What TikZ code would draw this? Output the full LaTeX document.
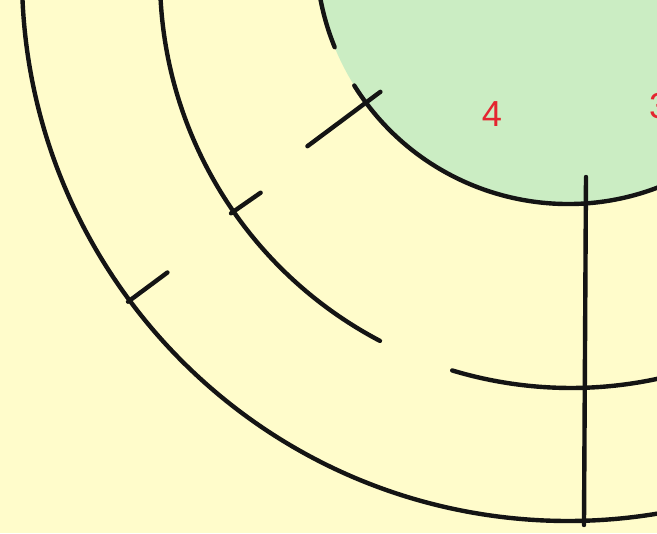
\documentclass[tikz,border=0pt]{standalone}
\usepackage{fontspec}
\setsansfont{Liberation Sans}
\usetikzlibrary{calc}
\definecolor{cpaper}{HTML}{FFFCCB}
\definecolor{cdisc}{HTML}{CBEDC3}
\definecolor{cred}{HTML}{E42530}
\definecolor{cink}{HTML}{141414}
\tikzset{
  every picture/.style={font=\sffamily, line width=1.25pt},
  ring/.style={draw=cink, line cap=round},
  tickline/.style={draw=cink, line cap=round},
  num/.style={font=\sffamily\fontsize{10.3}{12}\selectfont, text=cred, inner sep=0pt},
}

\begin{document}
\begin{tikzpicture}
  \useasboundingbox (0,0) rectangle (6.57,5.33);
  \clip (0,0) rectangle (6.57,5.33);
  \fill[cpaper] (0,0) rectangle (6.57,5.33);
  \coordinate (cin) at (5.68,5.81);
  \coordinate (cmid) at (5.71,5.56);
  \coordinate (cout) at (5.68,5.58);
  % green disc
  \fill[cdisc] (cin) circle[radius=2.52];
  % inner ring, broken near the top
  \draw[ring] ($(cin)+(186:2.52)$) arc[start angle=186, end angle=202.2, radius=2.52];
  \draw[ring] ($(cin)+(212:2.52)$) arc[start angle=212, end angle=300, radius=2.52];
  % middle ring, broken at the bottom left
  \draw[ring] ($(cmid)+(178:4.11)$) arc[start angle=178, end angle=242.3, radius=4.11];
  \draw[ring] ($(cmid)+(253.2:4.11)$) arc[start angle=253.2, end angle=292, radius=4.11];
  % outer ring
  \draw[ring] ($(cout)+(175:5.46)$) arc[start angle=175, end angle=292, radius=5.46];
  % ticks
  \coordinate (tin1) at ($(cin)+(216.7:3.25)$);
  \coordinate (tin2) at ($(cin)+(216.7:2.34)$);
  \coordinate (tmid1) at ($(cmid)+(214.8:4.14)$);
  \coordinate (tmid2) at ($(cmid)+(214.8:3.78)$);
  \coordinate (tout1) at ($(cout)+(216.6:5.48)$);
  \coordinate (tout2) at ($(cout)+(216.6:4.99)$);
  \draw[tickline] (tin1) -- (tin2);
  \draw[tickline] (tmid1) -- (tmid2);
  \draw[tickline] (tout1) -- (tout2);
  % vertical line
  \coordinate (vtop) at (5.86,3.56);
  \coordinate (vbot) at (5.84,0.08);
  \draw[tickline] (vtop) -- (vbot);
  % labels
  \node[num] (n4) at (4.92,4.19) {4};
  \node[num, anchor=west] (n3) at (6.47,4.27) {3};
\end{tikzpicture}
\end{document}
